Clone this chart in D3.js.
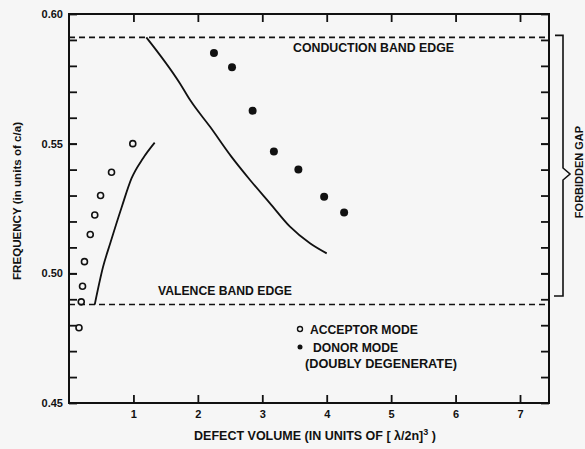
<!DOCTYPE html>
<html>
<head>
<meta charset="utf-8">
<script src="https://cdn.jsdelivr.net/npm/d3@7"></script>
<style>
  html, body { margin: 0; padding: 0; background: #f6f6f6; }
  svg { display: block; }
  text { font-family: "Liberation Sans", Arial, sans-serif; font-weight: bold; fill: #111; }
</style>
</head>
<body>
<svg id="chart" width="585" height="449"></svg>
<script>
// Defect mode frequencies inside the photonic band gap
const acceptorVolume = [0.99, 0.66, 0.49, 0.40, 0.33, 0.24, 0.21, 0.19, 0.155];
const acceptorFreq   = [0.550, 0.539, 0.530, 0.5225, 0.515, 0.5045, 0.495, 0.489, 0.479];

const donorVolume = [2.25, 2.53, 2.85, 3.18, 3.56, 3.96, 4.27];
const donorFreq   = [0.585, 0.5795, 0.5627, 0.547, 0.540, 0.5295, 0.5235];

// Theoretical curves
const acceptorCurveVolume = [0.40, 0.53, 0.64, 0.82, 0.97, 1.15, 1.33];
const acceptorCurveFreq   = [0.488, 0.5026, 0.5116, 0.5257, 0.5366, 0.5444, 0.5504];

const donorCurveVolume = [1.20, 1.72, 1.88, 2.19, 2.52, 2.81, 3.12, 3.43, 3.74, 4.00];
const donorCurveFreq   = [0.591, 0.5733, 0.5668, 0.5565, 0.5450, 0.5360, 0.5270, 0.5180, 0.5116, 0.5077];

// Band edges
const conductionEdge = 0.591;
const valenceEdge = 0.488;

const xTicks = [1, 2, 3, 4, 5, 6, 7];
const yTicks = [0.45, 0.50, 0.55, 0.60];
const yMinorTicks = d3.range(46, 60).map(v => v / 100);

const svg = d3.select("#chart");
const plotLeft = 69, plotRight = 549, plotTop = 14, plotBottom = 403;

const x = d3.scaleLinear().domain([0, 7.45]).range([plotLeft, plotRight]);
const y = d3.scaleLinear().domain([0.45, 0.60]).range([plotBottom, plotTop]);

const ink = "#111";

// Scale a text's font size so that it spans the given width
function fitWidth(sel, width) {
  const w = sel.node().getComputedTextLength();
  const fs = parseFloat(sel.attr("font-size"));
  sel.attr("font-size", (fs * width / w).toFixed(2));
  return sel;
}

// Frame
svg.append("rect")
  .attr("x", plotLeft).attr("y", plotTop)
  .attr("width", plotRight - plotLeft).attr("height", plotBottom - plotTop)
  .attr("fill", "none").attr("stroke", ink).attr("stroke-width", 2);

// Axes with inward ticks
const tickLen = 8;
svg.append("g").attr("transform", `translate(0,${plotBottom})`)
  .call(d3.axisBottom(x).tickValues(xTicks).tickSize(-tickLen).tickPadding(7).tickFormat(d3.format("d")))
  .call(g => g.select(".domain").remove());
svg.append("g").attr("transform", `translate(0,${plotTop})`)
  .call(d3.axisTop(x).tickValues(xTicks).tickSize(-tickLen).tickFormat(""))
  .call(g => g.select(".domain").remove());
svg.append("g").attr("transform", `translate(${plotLeft},0)`)
  .call(d3.axisLeft(y).tickValues(yTicks).tickSize(-tickLen).tickPadding(6).tickFormat(d3.format(".2f")))
  .call(g => g.select(".domain").remove());
svg.append("g").attr("transform", `translate(${plotLeft},0)`)
  .call(d3.axisLeft(y).tickValues(yMinorTicks).tickSize(-tickLen).tickFormat(""))
  .call(g => g.select(".domain").remove());
svg.append("g").attr("transform", `translate(${plotRight},0)`)
  .call(d3.axisRight(y).tickValues(yMinorTicks.concat(yTicks)).tickSize(-tickLen).tickFormat(""))
  .call(g => g.select(".domain").remove());

svg.selectAll(".tick line").attr("stroke", ink).attr("stroke-width", 1.8);
svg.selectAll(".tick text")
  .attr("font-size", 11).attr("font-weight", "bold")
  .attr("font-family", "'Liberation Sans', Arial, sans-serif").attr("fill", ink);

// Band edge lines
[conductionEdge, valenceEdge].forEach(v => {
  svg.append("line")
    .attr("x1", x(0)).attr("x2", plotRight)
    .attr("y1", y(v)).attr("y2", y(v))
    .attr("stroke", ink).attr("stroke-width", 1.6)
    .attr("stroke-dasharray", "6,4");
});

fitWidth(svg.append("text").attr("x", 293).attr("y", y(conductionEdge) + 15)
  .attr("font-size", 12).text("CONDUCTION BAND EDGE"), 161);
fitWidth(svg.append("text").attr("x", 158).attr("y", y(valenceEdge) - 9.5)
  .attr("font-size", 12).text("VALENCE BAND EDGE"), 134);

// Theory curves
const line = d3.line().curve(d3.curveMonotoneX);
svg.append("path")
  .attr("d", line(acceptorCurveVolume.map((v, i) => [x(v), y(acceptorCurveFreq[i])])))
  .attr("fill", "none").attr("stroke", ink).attr("stroke-width", 1.8);
svg.append("path")
  .attr("d", line(donorCurveVolume.map((v, i) => [x(v), y(donorCurveFreq[i])])))
  .attr("fill", "none").attr("stroke", ink).attr("stroke-width", 1.8);

// Measured modes
svg.append("g").selectAll("circle")
  .data(acceptorVolume.map((v, i) => [v, acceptorFreq[i]]))
  .join("circle")
  .attr("cx", d => x(d[0])).attr("cy", d => y(d[1])).attr("r", 3)
  .attr("fill", "none").attr("stroke", ink).attr("stroke-width", 1.6);
svg.append("g").selectAll("circle")
  .data(donorVolume.map((v, i) => [v, donorFreq[i]]))
  .join("circle")
  .attr("cx", d => x(d[0])).attr("cy", d => y(d[1])).attr("r", 4)
  .attr("fill", ink);

// Legend
const legend = svg.append("g").attr("transform", "translate(300,329)");
legend.append("circle").attr("cx", 0).attr("cy", 0).attr("r", 2.5)
  .attr("fill", "none").attr("stroke", ink).attr("stroke-width", 1.4);
const accLabel = fitWidth(legend.append("text").attr("x", 10).attr("y", 4.5).attr("font-size", 12).text("ACCEPTOR MODE"), 108);
legend.append("circle").attr("cx", 0).attr("cy", 18).attr("r", 2.5).attr("fill", ink);
legend.append("text").attr("x", 13).attr("y", 23).attr("font-size", accLabel.attr("font-size")).text("DONOR MODE");
fitWidth(legend.append("text").attr("x", 5).attr("y", 39).attr("font-size", 12).text("(DOUBLY DEGENERATE)"), 152);

// Brace marking the forbidden gap
const bx = 563, bTop = y(conductionEdge) - 2, bBot = 296, bMid = 174;
svg.append("path")
  .attr("d", `M${bx - 8},${bTop} H${bx} V${bMid - 6} L${bx + 7},${bMid} L${bx},${bMid + 6} V${bBot} H${bx - 9}`)
  .attr("fill", "none").attr("stroke", ink).attr("stroke-width", 1.6);
svg.append("text")
  .attr("transform", "translate(583,172) rotate(-90)")
  .attr("text-anchor", "middle").attr("font-size", 11)
  .text("FORBIDDEN GAP");

// Axis titles
fitWidth(svg.append("text")
  .attr("transform", "translate(21,201) rotate(-90)")
  .attr("text-anchor", "middle").attr("font-size", 10)
  .text("FREQUENCY (in units of c/a)"), 158);
const xt = svg.append("text")
  .attr("x", 315).attr("y", 440)
  .attr("text-anchor", "middle").attr("font-size", 12.5);
xt.append("tspan").text("DEFECT VOLUME (IN UNITS OF [ λ/2n]");
xt.append("tspan").attr("dy", -5).attr("font-size", 9).text("3");
xt.append("tspan").attr("dy", 5).text(" )");
</script>
</body>
</html>
